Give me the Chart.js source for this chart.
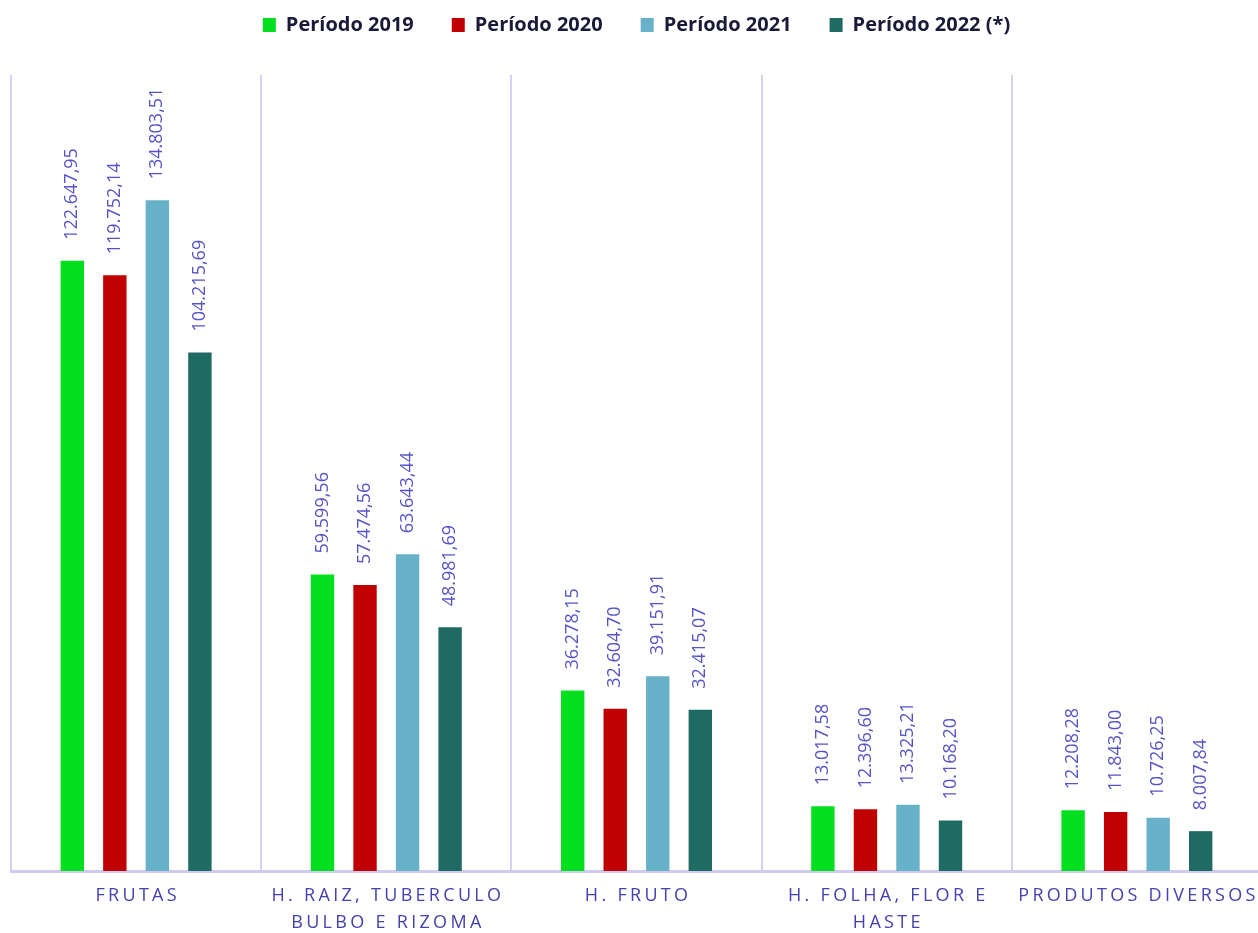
<!DOCTYPE html>
<html lang="pt">
<head>
  <meta charset="UTF-8">
  <title>Volume por grupo de produtos</title>
  <script src="https://cdn.jsdelivr.net/npm/chart.js"></script>
  <style>
    html, body {
      margin: 0;
      padding: 0;
      background: #ffffff;
      overflow: hidden;
    }
    #chart-container {
      width: 1262px;
      height: 933px;
    }
  </style>
</head>
<body>
  <div id="chart-container">
    <canvas id="volChart"></canvas>
  </div>

  <script>
    const categories = [
      ['FRUTAS'],
      ['H. RAIZ, TUBERCULO', 'BULBO E RIZOMA'],
      ['H. FRUTO'],
      ['H. FOLHA, FLOR E', 'HASTE'],
      ['PRODUTOS DIVERSOS']
    ];
    const seriesNames = ['Período 2019', 'Período 2020', 'Período 2021', 'Período 2022 (*)'];
    const p2019 = [122647.95, 59599.56, 36278.15, 13017.58, 12208.28];
    const p2020 = [119752.14, 57474.56, 32604.70, 12396.60, 11843.00];
    const p2021 = [134803.51, 63643.44, 39151.91, 13325.21, 10726.25];
    const p2022 = [104215.69, 48981.69, 32415.07, 10168.20, 8007.84];
    const colors = ['#02df1f', '#c00000', '#67b2c9', '#1f6b63'];

    const fmt = v => v.toLocaleString('de-DE', { minimumFractionDigits: 2, maximumFractionDigits: 2 });

    // value labels, rotated, above each bar
    const valueLabels = {
      id: 'valueLabels',
      afterDatasetsDraw(chart) {
        const ctx = chart.ctx;
        ctx.save();
        ctx.font = '18px "Open Sans"';
        ctx.fillStyle = '#5654c6';
        ctx.textAlign = 'left';
        ctx.textBaseline = 'middle';
        chart.data.datasets.forEach((ds, i) => {
          chart.getDatasetMeta(i).data.forEach((bar, j) => {
            ctx.save();
            ctx.translate(bar.x, bar.y - 21);
            ctx.rotate(-Math.PI / 2);
            ctx.fillText(fmt(ds.data[j]), 0, 0);
            ctx.restore();
          });
        });
        ctx.restore();
      }
    };

    // category labels with letter spacing
    const catLabels = {
      id: 'catLabels',
      afterDraw(chart) {
        const ctx = chart.ctx;
        const x = chart.scales.x;
        ctx.save();
        ctx.font = '18px "Open Sans"';
        ctx.letterSpacing = '3.3px';
        ctx.fillStyle = '#4541ad';
        ctx.textAlign = 'center';
        ctx.textBaseline = 'middle';
        categories.forEach((lines, i) => {
          const cx = x.getPixelForValue(i);
          lines.forEach((ln, k) => {
            ctx.fillText(ln, cx + 1.6, 896 + k * 27);
          });
        });
        ctx.restore();
      }
    };

    // fixed legend block height so the plot area starts where it should
    const legendSpace = {
      id: 'legendSpace',
      beforeInit(chart) {
        const fit = chart.legend.fit;
        chart.legend.fit = function () {
          fit.bind(chart.legend)();
          this.height = 98;
        };
      }
    };

    const ctx = document.getElementById('volChart').getContext('2d');
    new Chart(ctx, {
      type: 'bar',
      data: {
        labels: categories.map(c => c.join(' ')),
        datasets: [p2019, p2020, p2021, p2022].map((d, i) => ({
          label: seriesNames[i],
          data: d,
          backgroundColor: colors[i],
          categoryPercentage: 0.68,
          barPercentage: 0.55
        }))
      },
      options: {
        responsive: true,
        maintainAspectRatio: false,
        animation: false,
        layout: { padding: { top: -23, left: 11, right: 0, bottom: 62 } },
        scales: {
          x: {
            grid: {
              offset: true,
              color: '#d6d1f0',
              lineWidth: 2,
              drawTicks: false
            },
            border: { color: '#d0cbee', width: 3 },
            ticks: { display: false }
          },
          y: {
            display: false,
            min: 0,
            max: 160000
          }
        },
        plugins: {
          legend: {
            position: 'top',
            labels: {
              boxWidth: 13,
              boxHeight: 14,
              padding: 38,
              color: '#1a1a38',
              font: { family: '"Open Sans"', size: 20, weight: 'bold' }
            }
          },
          tooltip: { enabled: false }
        }
      },
      plugins: [valueLabels, catLabels, legendSpace]
    });
  </script>
</body>
</html>
